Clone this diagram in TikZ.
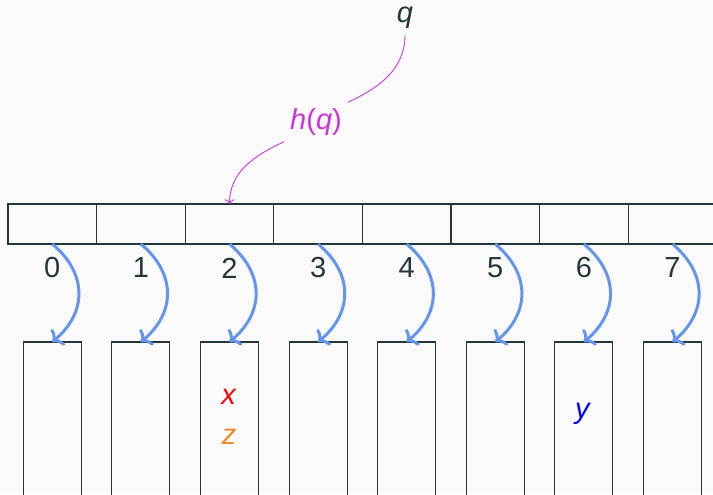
\documentclass[tikz,border=0pt]{standalone}
\usepackage{fontspec}
\setmainfont{Liberation Sans}
\usetikzlibrary{arrows.meta}
\definecolor{bgcol}{HTML}{FAFAFA}
\definecolor{framecol}{HTML}{23373B}
\definecolor{chaincol}{HTML}{6495ED}
\definecolor{hashcol}{HTML}{CC33DD}
\definecolor{zcol}{HTML}{F08A24}
\begin{document}
\begin{tikzpicture}[x=0.02cm,y=0.02cm,
  every node/.style={font=\fontsize{16.5}{19}\selectfont},
  cell/.style={draw=framecol,line width=0.7pt,minimum width=1.772cm,minimum height=0.8cm,inner sep=0pt,outer sep=0pt},
  bucket/.style={draw=framecol,line width=0.6pt,minimum width=1.16cm,minimum height=4cm,anchor=north,inner sep=0pt,outer sep=0pt},
  chain/.style={draw=chaincol,line width=1.7pt,-{To[length=5pt,width=12pt]}},
  hashline/.style={draw=hashcol,line width=0.5pt}]
\fill[bgcol] (0,0) rectangle (713,-494);
\useasboundingbox (0,0) rectangle (713,-494);
\clip (0,0) rectangle (713,-494);
% table cells, labels and buckets
\foreach \i in {0,...,7}{
  \node[cell] (c\i) at ({8+88.6*(\i+0.5)},-224) {};
  \node[text=framecol] (l\i) at ({8+88.6*(\i+0.5)},-268) {\i};
  \node[bucket] (b\i) at ({8+88.6*(\i+0.5)},-342) {};
  \draw[chain] (c\i.south) to[bend left=50,looseness=1.2] (b\i.north);
}
% keys
\node[text=red] (x) at (229,-397) {\textit{x}};
\node[text=zcol] (z) at (229,-437) {\textit{z}};
\node[text=blue] (y) at (583,-414) {\textit{y}};
% hashing the query
\node[text=framecol] (q) at (405,-18) {\textit{q}};
\node[text=hashcol] (hq) at (316,-122) {\textit{h}(\textit{q})};
\draw[hashline] (q.south) to[out=-90,in=25] (hq.north east);
\draw[hashline,-{To}] (hq.south west) to[out=-155,in=90] (c2.north);
\end{tikzpicture}
\end{document}
